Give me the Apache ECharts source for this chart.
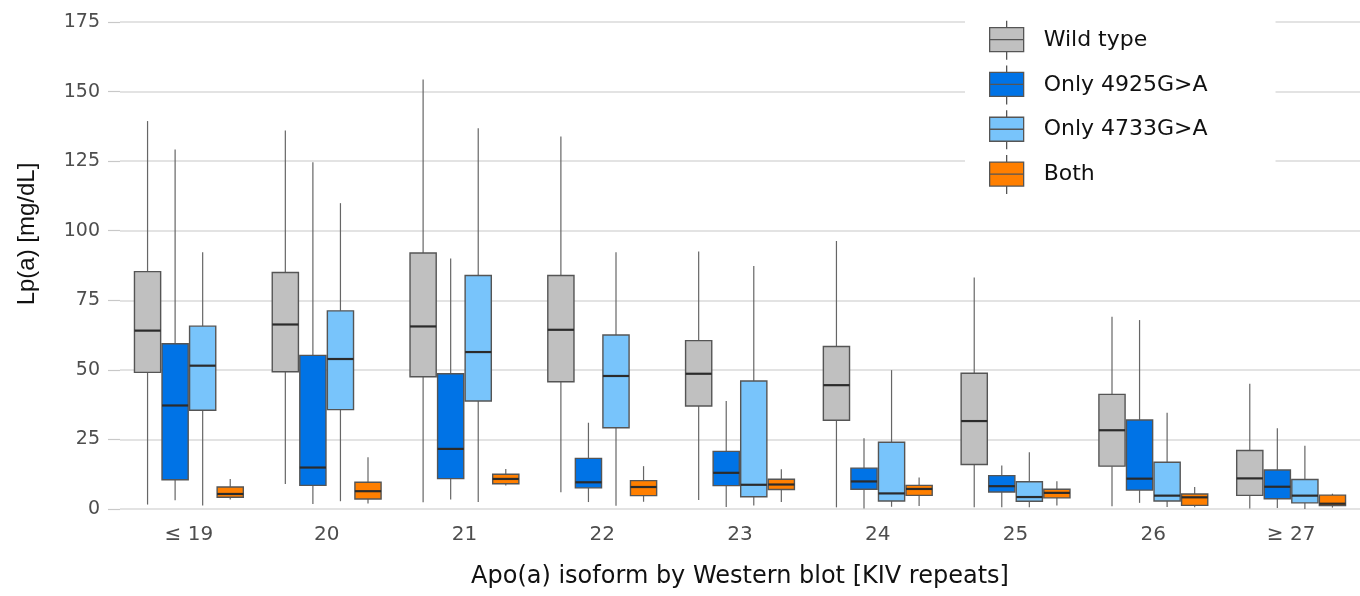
<!DOCTYPE html>
<html>
<head>
<meta charset="utf-8">
<script src="https://cdn.jsdelivr.net/npm/echarts@6/dist/echarts.min.js"></script>
<style>
  html, body { margin: 0; padding: 0; background: #fff; }
  #chart { width: 1360px; height: 596px; }
</style>
</head>
<body>
<div id="chart"></div>
<script>
// Categories (KIV repeats)
const categories = ['≤ 19', '20', '21', '22', '23', '24', '25', '26', '≥ 27'];
const seriesNames = ['Wild type', 'Only 4925G>A', 'Only 4733G>A', 'Both'];
const yTicks = [0, 25, 50, 75, 100, 125, 150, 175];

// Each entry: [lower whisker, Q1, median, Q3, upper whisker]
const wildType = [
  [1.6, 49.1, 64.1, 85.3, 139.4],
  [9.0, 49.3, 66.3, 85.0, 136.0],
  [2.4, 47.5, 65.6, 92.0, 154.3],
  [6.0, 45.7, 64.4, 83.9, 133.9],
  [3.2, 37.0, 48.6, 60.5, 92.5],
  [0.6, 31.9, 44.5, 58.4, 96.3],
  [0.6, 16.0, 31.6, 48.8, 83.2],
  [1.0, 15.4, 28.3, 41.2, 69.1],
  [0.2, 4.9, 11.0, 21.0, 45.0]
];
const only4925 = [
  [3.1, 10.5, 37.2, 59.4, 129.2],
  [1.8, 8.5, 14.9, 55.2, 124.6],
  [3.4, 10.9, 21.6, 48.6, 90.0],
  [2.5, 7.6, 9.6, 18.2, 31.0],
  [0.7, 8.4, 13.0, 20.7, 38.8],
  [0.2, 7.1, 9.9, 14.7, 25.4],
  [0.6, 6.1, 8.2, 12.0, 15.6],
  [2.2, 6.8, 10.9, 32.0, 67.9],
  [0.4, 3.7, 8.0, 14.0, 29.0]
];
const only4733 = [
  [1.3, 35.5, 51.5, 65.7, 92.3],
  [2.8, 35.7, 53.9, 71.2, 109.9],
  [2.5, 38.8, 56.4, 83.9, 136.8],
  [1.2, 29.2, 47.8, 62.5, 92.3],
  [1.3, 4.4, 8.7, 46.0, 87.3],
  [0.8, 2.9, 5.6, 24.0, 49.9],
  [0.6, 2.8, 4.3, 9.8, 20.4],
  [0.7, 2.9, 4.8, 16.8, 34.6],
  [0.0, 2.2, 4.8, 10.6, 22.7]
];
const both = [
  [3.4, 4.2, 5.4, 7.9, 10.8],
  [2.0, 3.6, 6.4, 9.6, 18.6],
  [8.4, 9.1, 10.8, 12.5, 14.4],
  [2.6, 4.8, 7.9, 10.2, 15.4],
  [2.5, 7.0, 8.8, 10.7, 14.3],
  [1.1, 4.9, 7.2, 8.5, 11.3],
  [1.3, 4.0, 5.8, 7.1, 10.0],
  [0.6, 1.3, 4.2, 5.4, 7.9],
  [0.5, 1.2, 1.9, 5.0, 5.5]
];

const seriesData = [wildType, only4925, only4733, both];
const colors = ['#c0c0c0', '#0073e6', '#78c4fb', '#ff7f00'];

const boxIcon = 'path://M17,0L17,7M0,7L34,7L34,31L0,31ZM0,19L34,19M17,31L17,39';
const FONT = 'DejaVu Sans';

function makeRender(si) {
  return function (params, api) {
    const ci = api.value(0);
    const band = api.size([1, 0])[0];
    const cx = api.coord([ci, 0])[0] + (si - 1.5) * band * 0.2;
    const w = band * 0.19;
    const yLo = api.coord([ci, api.value(1)])[1];
    const yQ1 = api.coord([ci, api.value(2)])[1];
    const yMed = api.coord([ci, api.value(3)])[1];
    const yQ3 = api.coord([ci, api.value(4)])[1];
    const yHi = api.coord([ci, api.value(5)])[1];
    const fill = api.visual('color');
    return {
      type: 'group',
      children: [
        { type: 'line', shape: { x1: cx, y1: yHi, x2: cx, y2: yQ3 }, style: { stroke: '#666', lineWidth: 1.2 } },
        { type: 'line', shape: { x1: cx, y1: yQ1, x2: cx, y2: yLo }, style: { stroke: '#666', lineWidth: 1.2 } },
        { type: 'rect', shape: { x: cx - w / 2, y: yQ3, width: w, height: yQ1 - yQ3 }, style: { fill: fill, stroke: '#555', lineWidth: 1.4 } },
        { type: 'line', shape: { x1: cx - w / 2, y1: yMed, x2: cx + w / 2, y2: yMed }, style: { stroke: '#2b2b2b', lineWidth: 2.2 } }
      ]
    };
  };
}

const series = seriesNames.map(function (name, si) {
  return {
    name: name,
    type: 'custom',
    renderItem: makeRender(si),
    itemStyle: { color: colors[si], borderColor: '#555', borderWidth: 1.3 },
    encode: { x: 0, y: [1, 2, 3, 4, 5] },
    data: seriesData[si].map(function (d, ci) { return [ci].concat(d); })
  };
});

const chart = echarts.init(document.getElementById('chart'), null, { renderer: 'canvas' });
chart.setOption({
  animation: false,
  backgroundColor: '#fff',
  grid: { left: 120, right: 0, top: 22, bottom: 87, containLabel: false },
  xAxis: {
    type: 'category',
    data: categories,
    axisLine: { show: false },
    axisTick: { show: false },
    splitLine: { show: false },
    axisLabel: { fontSize: 20, color: '#4d4d4d', margin: 16, fontFamily: FONT },
    name: 'Apo(a) isoform by Western blot [KIV repeats]',
    nameLocation: 'middle',
    nameGap: 56,
    nameTextStyle: { fontSize: 24, color: '#111', fontFamily: FONT }
  },
  yAxis: {
    type: 'value',
    min: yTicks[0],
    max: yTicks[yTicks.length - 1],
    interval: 25,
    axisLine: { show: false },
    axisTick: { show: true, length: 12, lineStyle: { color: '#c8c8c8', width: 1.2 } },
    splitLine: { show: true, lineStyle: { color: '#dadada', width: 1.5 } },
    axisLabel: { fontSize: 19, color: '#4d4d4d', margin: 20, fontFamily: FONT }
  },
  legend: {
    orient: 'vertical',
    left: 965,
    top: 10,
    padding: [10, 68, 8, 24],
    backgroundColor: '#fff',
    itemWidth: 34,
    itemHeight: 39,
    itemGap: 4.5,
    icon: boxIcon,
    itemStyle: { borderColor: '#555', borderWidth: 1.3 },
    textStyle: { fontSize: 22, color: '#111', fontFamily: FONT, padding: [0, 0, 0, 15] },
    data: seriesNames
  },
  graphic: [{
    type: 'text',
    x: 27,
    y: 234,
    rotation: Math.PI / 2,
    style: {
      text: 'Lp(a) [mg/dL]',
      fontSize: 24,
      fontFamily: 'Liberation Sans',
      fill: '#111',
      align: 'center',
      verticalAlign: 'middle'
    }
  }],
  series: series
});
</script>
</body>
</html>
